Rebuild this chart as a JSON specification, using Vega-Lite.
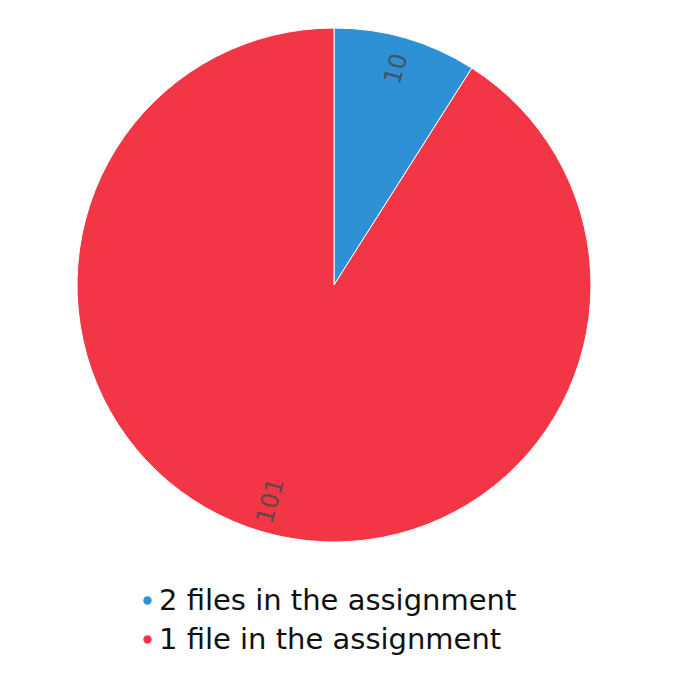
{
  "$schema": "https://vega.github.io/schema/vega-lite/v6.json",
  "width": 668,
  "height": 570,
  "autosize": {"type": "none"},
  "padding": {"left": 0, "top": 0, "right": 27, "bottom": 126},
  "background": "#ffffff",
  "config": {"view": {"stroke": null}},
  "data": {"values": [
    {"category": "2 files in the assignment", "count": 10, "ord": 1},
    {"category": "1 file in the assignment", "count": 101, "ord": 2}
  ]},
  "encoding": {
    "theta": {"field": "count", "type": "quantitative", "stack": true},
    "order": {"field": "ord", "type": "quantitative"}
  },
  "layer": [
    {
      "mark": {"type": "arc", "outerRadius": 257, "stroke": "#ffffff", "strokeWidth": 1},
      "encoding": {
        "color": {
          "field": "category", "type": "nominal",
          "sort": ["2 files in the assignment", "1 file in the assignment"],
          "scale": {"domain": ["2 files in the assignment", "1 file in the assignment"], "range": ["#2E91D6", "#F23645"]},
          "legend": {
            "title": null, "orient": "none", "legendX": 133, "legendY": 586,
            "symbolType": "circle", "symbolSize": 70, "symbolStrokeWidth": 0,
            "labelFontSize": 29, "labelFont": "DejaVu Sans", "labelColor": "#111111",
            "labelOffset": -3, "rowPadding": 9, "labelLimit": 600
          }
        }
      }
    },
    {
      "mark": {"type": "text", "radius": 225, "angle": -74, "fontSize": 24, "font": "DejaVu Sans", "color": "#4a4a4a", "opacity": 0.85},
      "encoding": {"text": {"field": "count", "type": "quantitative"}}
    }
  ]
}
